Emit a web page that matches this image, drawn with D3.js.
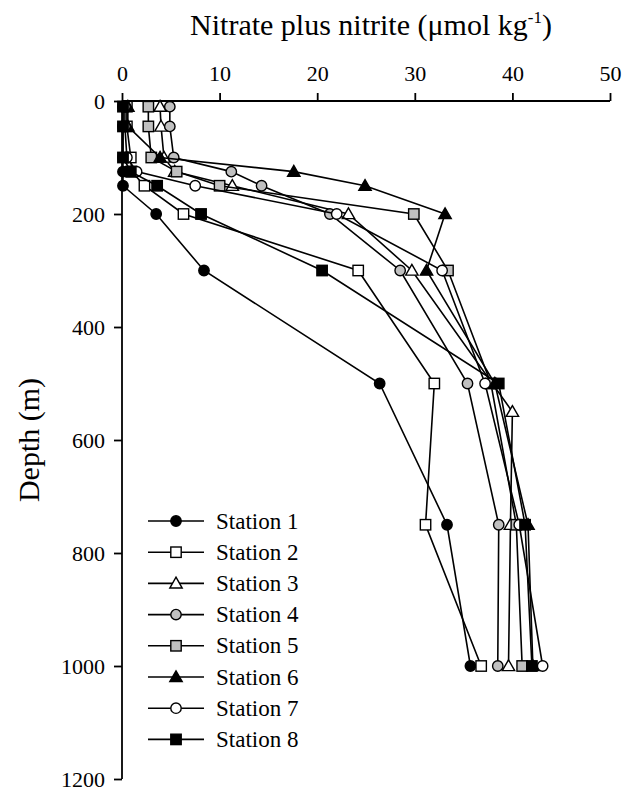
<!DOCTYPE html>
<html>
<head>
<meta charset="utf-8">
<script src="https://cdn.jsdelivr.net/npm/d3@7"></script>
<style>
  html, body { margin: 0; padding: 0; background: #fff; }
</style>
</head>
<body>
<svg id="chart" width="631" height="797"></svg>
<script>
// ---- data ----
const depths = [10, 45, 100, 125, 150, 200, 300, 500, 750, 1000];
const depths3 = [10, 45, 100, 125, 150, 200, 300, 550, 750, 1000];

const station1 = [0.1, 0.1, 0.1, 0.1, 0.1, 3.5, 8.4, 26.4, 33.3, 35.7];
const station2 = [0.5, 0.5, 0.9, 1.0, 2.3, 6.3, 24.2, 32.0, 31.1, 36.8];
const station3 = [3.9, 4.0, 4.3, 5.4, 11.3, 23.2, 29.7, 40.0, 39.8, 39.6];
const station4 = [4.9, 4.9, 5.3, 11.2, 14.3, 21.3, 28.5, 35.4, 38.6, 38.5];
const station5 = [2.7, 2.7, 3.0, 5.6, 10.0, 29.9, 33.4, 37.8, 40.4, 41.0];
const station6 = [0.6, 0.6, 3.9, 17.6, 24.9, 33.1, 31.2, 38.2, 41.6, 42.1];
const station7 = [0.3, 0.3, 0.5, 1.5, 7.5, 22.0, 32.8, 37.2, 40.7, 43.1];
const station8 = [0.1, 0.1, 0.1, 0.9, 3.6, 8.1, 20.5, 38.6, 41.3, 42.0];

const stationNames = ["Station 1", "Station 2", "Station 3", "Station 4",
                      "Station 5", "Station 6", "Station 7", "Station 8"];
const xTicks = [0, 10, 20, 30, 40, 50];
const yTicks = [0, 200, 400, 600, 800, 1000, 1200];

const FONT = "'Liberation Serif', 'Times New Roman', Tinos, 'Nimbus Roman', serif";

// ---- styles ----
const styles = [
  { shape: "circle",   fill: "#000" },
  { shape: "square",   fill: "#fff" },
  { shape: "triangle", fill: "#fff" },
  { shape: "circle",   fill: "#c0c0c0" },
  { shape: "square",   fill: "#c0c0c0" },
  { shape: "triangle", fill: "#000" },
  { shape: "circle",   fill: "#fff" },
  { shape: "square",   fill: "#000" }
];
const seriesValues = [station1, station2, station3, station4, station5, station6, station7, station8];
const seriesDepths = [depths, depths, depths3, depths, depths, depths, depths, depths];

const series = stationNames.map((name, i) => ({
  name,
  style: styles[i],
  points: seriesValues[i].map((v, j) => ({ v, d: seriesDepths[i][j] }))
}));

const svg = d3.select("#chart");
const mLeft = 122, mRight = 610, mTop = 101, mBottom = 779;

const x = d3.scaleLinear().domain([0, 50]).range([mLeft, mRight]);
const y = d3.scaleLinear().domain([0, 1200]).range([mTop, mBottom]);

// axes
const xAxis = d3.axisTop(x).tickValues(xTicks).tickSize(8).tickPadding(12).tickFormat(d3.format("d"));
const yAxis = d3.axisLeft(y).tickValues(yTicks).tickSize(8).tickPadding(9).tickFormat(d3.format("d"));

const gx = svg.append("g").attr("transform", `translate(0,${mTop})`).call(xAxis);
const gy = svg.append("g").attr("transform", `translate(${mLeft},0)`).call(yAxis);
[gx, gy].forEach(g => {
  g.attr("font-family", FONT).attr("font-size", 22);
  g.select(".domain").attr("stroke", "#000").attr("stroke-width", 1.8);
  g.selectAll(".tick line").attr("stroke", "#000").attr("stroke-width", 1.8);
  g.selectAll(".tick text").attr("font-size", 22).attr("font-family", FONT).attr("fill", "#000");
});
gx.select(".domain").attr("d", `M${mLeft},0H${mRight}`);
gy.select(".domain").attr("d", `M0,${mTop}V${mBottom}`);

// titles
const t = svg.append("text").attr("x", 371).attr("y", 35).attr("text-anchor", "middle")
  .attr("font-family", FONT).attr("font-size", 30);
t.append("tspan").text("Nitrate plus nitrite (\u03bcmol kg");
t.append("tspan").attr("font-size", 17).attr("dy", -12).text("-1");
t.append("tspan").attr("dy", 12).text(")");

svg.append("text").attr("transform", "translate(39,440) rotate(-90)")
  .attr("font-family", FONT)
  .attr("text-anchor", "middle").attr("font-size", 30).text("Depth (m)");

// marker
function marker(g, shape, fill, cx, cy) {
  if (shape === "circle") {
    g.append("circle").attr("cx", cx).attr("cy", cy).attr("r", 5.2)
      .attr("fill", fill).attr("stroke", "#000").attr("stroke-width", 1.4);
  } else if (shape === "square") {
    g.append("rect").attr("x", cx - 5.2).attr("y", cy - 5.2).attr("width", 10.4).attr("height", 10.4)
      .attr("fill", fill).attr("stroke", "#000").attr("stroke-width", 1.4);
  } else {
    const s = 6.2;
    g.append("path").attr("d", `M${cx},${cy - s}L${cx + s},${cy + s * 0.75}L${cx - s},${cy + s * 0.75}Z`)
      .attr("fill", fill).attr("stroke", "#000").attr("stroke-width", 1.4);
  }
}

const line = d3.line().x(p => x(p.v)).y(p => y(p.d));
const plot = svg.append("g");
series.forEach(s => {
  const g = plot.append("g");
  g.append("path").attr("d", line(s.points)).attr("fill", "none")
    .attr("stroke", "#000").attr("stroke-width", 1.6);
  s.points.forEach(p => marker(g, s.style.shape, s.style.fill, x(p.v), y(p.d)));
});

// legend
const legend = svg.append("g");
series.forEach((s, i) => {
  const ly = 521 + i * 31.2;
  legend.append("line").attr("x1", 148).attr("x2", 204).attr("y1", ly).attr("y2", ly)
    .attr("stroke", "#000").attr("stroke-width", 1.6);
  marker(legend, s.style.shape, s.style.fill, 176, ly);
  legend.append("text").attr("x", 216).attr("y", ly + 7.5)
    .attr("font-family", FONT).attr("font-size", 23).text(s.name);
});
</script>
</body>
</html>
